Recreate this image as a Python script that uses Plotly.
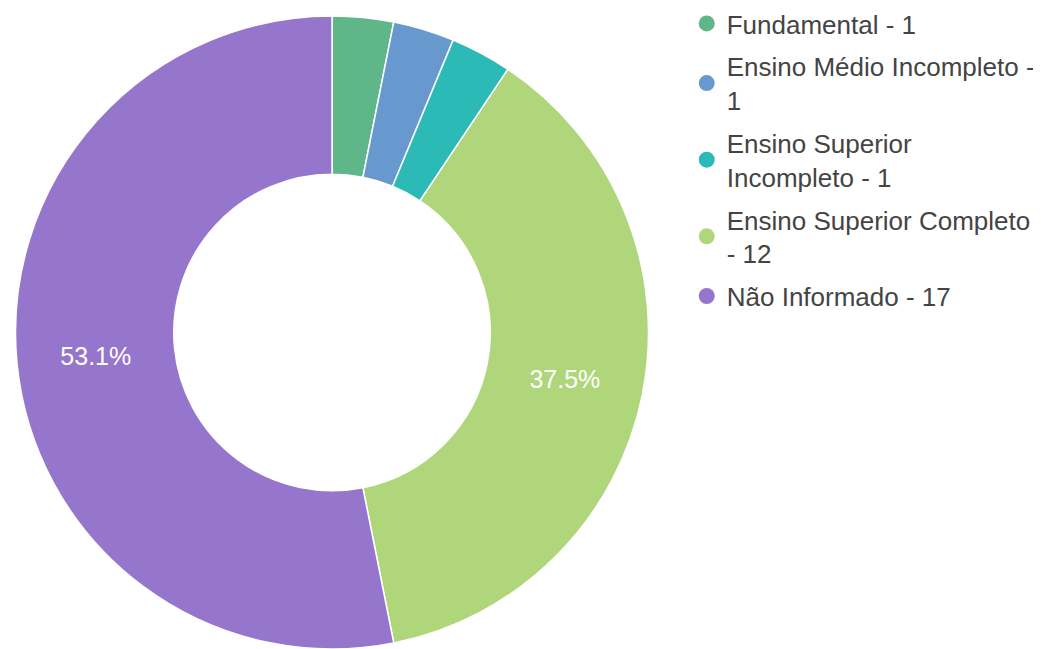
import plotly.graph_objects as go

categories = ["Fundamental", "Ensino Médio Incompleto", "Ensino Superior Incompleto",
              "Ensino Superior Completo", "Não Informado"]
values = [1, 1, 1, 12, 17]
legend_labels = ["Fundamental - 1", "Ensino Médio Incompleto -<br>1",
                 "Ensino Superior<br>Incompleto - 1", "Ensino Superior Completo<br>- 12",
                 "Não Informado - 17"]
colors = ["#5fb789", "#6798ce", "#2bbab5", "#b0d67c", "#9576cc"]
show_text = [False, False, False, True, True]

FONT = "Liberation Sans, Arial, sans-serif"

fig = go.Figure()
fig.add_trace(go.Pie(
    labels=categories,
    values=values,
    sort=False,
    direction="clockwise",
    rotation=0,
    hole=0.5,
    marker=dict(colors=colors, line=dict(color="white", width=1.5)),
    texttemplate=["%{percent:.1%}" if s else "" for s in show_text],
    textposition="inside",
    insidetextorientation="horizontal",
    textfont=dict(color="white", size=25, family=FONT),
    showlegend=False,
    domain=dict(x=[0, 0.6225], y=[0, 1]),
))

for lab, col, grp in zip(legend_labels, colors, categories):
    fig.add_trace(go.Scatter(
        x=[None], y=[None], mode="markers", name=lab, legendgroup=grp,
        marker=dict(color=col, size=24, symbol="circle"),
        showlegend=True, hoverinfo="skip",
    ))

fig.update_layout(
    width=1041, height=649,
    margin=dict(l=0, r=0, t=8, b=8, autoexpand=False),
    paper_bgcolor="white", plot_bgcolor="white",
    xaxis=dict(visible=False), yaxis=dict(visible=False),
    legend=dict(x=0.652, y=1.0253, xanchor="left", yanchor="top",
                font=dict(size=26, color="#444", family=FONT),
                tracegroupgap=6, itemsizing="trace"),
)

fig.write_html("out.html")
